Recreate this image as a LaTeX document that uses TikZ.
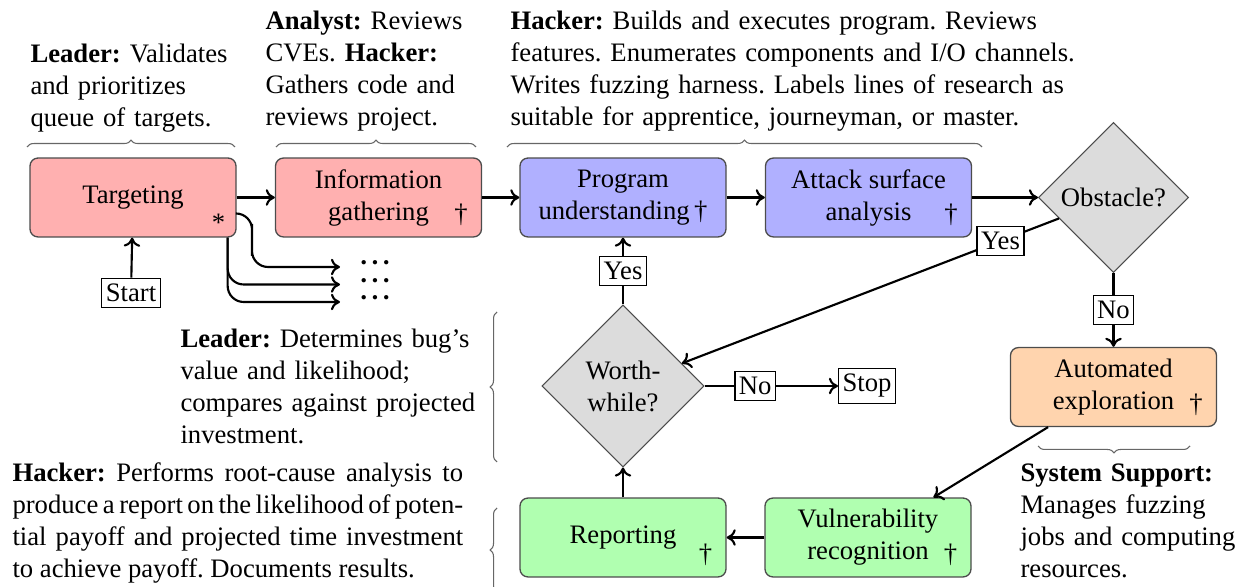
\documentclass[tikz,border=0pt]{standalone}
\usepackage{fontspec}
\setmainfont{Liberation Serif}
\usetikzlibrary{shapes.geometric,decorations.pathreplacing,calc,arrows.meta}

\definecolor{stagered}{HTML}{FFB0B0}
\definecolor{stageblue}{HTML}{B0B0FF}
\definecolor{stagegreen}{HTML}{B0FFB0}
\definecolor{stageorange}{HTML}{FFD4AE}
\definecolor{decisiongray}{HTML}{DCDCDC}

\newcommand{\moredots}{\textbf{\textperiodcentered\kern0.9pt\textperiodcentered\kern0.9pt\textperiodcentered}}

\begin{document}
\frenchspacing
\begin{tikzpicture}[x=0.375pt, y=-0.375pt,
  stage/.style={draw=black!70, line width=0.5pt, rounded corners=3pt,
    minimum width=77.25pt, minimum height=29.6pt, align=center, inner sep=1pt},
  redstage/.style={stage, fill=stagered},
  bluestage/.style={stage, fill=stageblue},
  greenstage/.style={stage, fill=stagegreen},
  orangestage/.style={stage, fill=stageorange},
  decision/.style={diamond, draw=black!70, line width=0.4pt, fill=decisiongray,
    align=center, inner sep=0pt},
  tag/.style={draw=black, fill=white, line width=0.45pt,
    inner xsep=1.5pt, inner ysep=2.2pt},
  flow/.style={-{Computer Modern Rightarrow[length=3.4pt, width=6.2pt]}, line width=0.8pt},
  note/.style={anchor=base west, inner sep=0pt, align=left},
  gbrace/.style={draw=black!60, line width=0.4pt, decorate,
    decoration={brace, amplitude=2.6pt}},
  dagmark/.style={anchor=base east, inner sep=0pt},
  more/.style={inner sep=0pt, anchor=base, text width=14pt, align=center,
    font=\fontsize{10pt}{6.6pt}\selectfont}
]
\useasboundingbox (0,0) rectangle (1247,587);

% process stages
\node[redstage]    (tgt)  at (133,197.5)  {Targeting};
\node[redstage]    (info) at (378.5,197.5) {Information\\gathering};
\node[bluestage]   (prog) at (623,197.5)  {Program\\understanding\,\textdagger};
\node[bluestage]   (atk)  at (868.5,197.5) {Attack surface\\analysis};
\node[decision, minimum size=56.25pt] (obs) at (1113.5,197.5) {Obstacle?};
\node[orangestage] (auto) at (1113.5,387) {Automated\\exploration};
\node[greenstage]  (vuln) at (868,537.5)  {Vulnerability\\recognition};
\node[greenstage]  (rep)  at (623,537.5)  {Reporting};
\node[decision, minimum size=60.75pt] (worth) at (623,386) {Worth-\\while?};
\node[tag] (stop)  at (867,386) {Stop};
\node[tag] (start) at (131,293) {Start};

% markers in the box corners
\node[dagmark] (ast)    at ($(tgt.south east)+(-11,-6)$)  {*};
\node[dagmark] (dinfo)  at ($(info.south east)+(-14,-15)$) {\textdagger};
\node[dagmark] (datk)   at ($(atk.south east)+(-14,-15)$)  {\textdagger};
\node[dagmark] (dauto)  at ($(auto.south east)+(-14,-15)$) {\textdagger};
\node[dagmark] (dvuln)  at ($(vuln.south east)+(-14,-15)$) {\textdagger};
\node[dagmark] (drep)   at ($(rep.south east)+(-14,-15)$)  {\textdagger};

% parallel targets
\node[more] (dots) at (375,271.5) {\moredots\\\moredots\\\moredots};
\coordinate (fan0) at ($(tgt.east)+(0,16)$);
\coordinate (fan1) at ($(tgt.south east)+(-9,0)$);
\coordinate (turn0) at (252,240);
\coordinate (end1) at (340,267);
\coordinate (end2) at (340,284.5);
\coordinate (end3) at (340,302);

% main flow
\draw[flow] (start) -- (tgt);
\draw[flow] (tgt) -- (info);
\draw[flow] (info) -- (prog);
\draw[flow] (prog) -- (atk);
\draw[flow] (atk) -- (obs);
\draw[flow] (obs) -- node[tag] (no1) {No} (auto);
\draw[flow] (obs) -- node[tag, pos=0.155] (yes1) {Yes} (worth);
\draw[flow] (worth) -- node[tag] (yes2) {Yes} (prog);
\draw[flow] (worth) -- node[tag, pos=0.38] (no2) {No} (stop);
\draw[flow] (auto) -- (vuln);
\draw[flow] (vuln) -- (rep);
\draw[flow] (rep) -- (worth);

\draw[flow, rounded corners=6pt] (fan0) -| (turn0) |- (end1);
\draw[flow, rounded corners=6pt] (fan1) |- (end2);
\draw[flow, rounded corners=6pt] (fan1) |- (end3);

% role braces
\draw[gbrace] (27,147) -- (235,147);
\draw[gbrace] (276,147) -- (476,147);
\draw[gbrace] (507,147) -- (982,147);
\draw[gbrace] (497,462) -- (497,312);
\draw[gbrace] (497,592) -- (497,508);
\draw[gbrace] (1190,446) -- (1038,446);

% role descriptions
\node[note, text width=90pt] (rlead) at (30,63)
  {\textbf{Leader:} Validates\\and prioritizes\\queue of targets.};
\node[note, text width=90pt] (ranalyst) at (265,30)
  {\textbf{Analyst:} Reviews\\CVEs. \textbf{Hacker:}\\Gathers code and\\reviews project.};
\node[note, text width=240pt] (rhack) at (510,30)
  {\textbf{Hacker:} Builds and executes program. Reviews\\features. Enumerates components and I/O channels.\\Writes fuzzing harness. Labels lines of research as\\suitable for apprentice, journeyman, or master.};
\node[note, text width=120pt] (rvalue) at (180,348)
  {\textbf{Leader:} Determines bug's\\value and likelihood;\\compares against projected\\investment.};
\node[note, text width=169pt, align=justify] (rreport) at (12,482)
  {\textbf{Hacker:} Performs root-cause analysis to\linebreak produce a report on the likelihood of poten-\linebreak tial payoff and projected time investment\linebreak to achieve payoff. Documents results.};
\node[note, text width=90pt] (rsys) at (1020,482)
  {\textbf{System Support:}\\Manages fuzzing\\jobs and computing\\resources.};
\end{tikzpicture}
\end{document}
